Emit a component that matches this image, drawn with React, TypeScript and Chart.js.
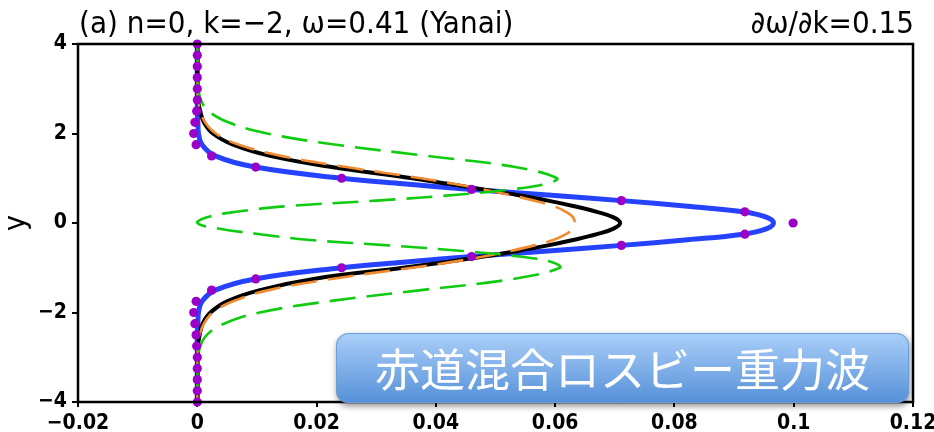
import React, { useEffect, useRef } from "react";
import { Chart, registerables } from "chart.js";

Chart.register(...registerables);

// ---- data ----
const yLevels = [
  4, 3.5, 3, 2.75, 2.5, 2.25, 2, 1.75, 1.5, 1.25, 1, 0.875, 0.75, 0.625, 0.5, 0.375, 0.25, 0.125, 0,
  -0.125, -0.25, -0.375, -0.5, -0.625, -0.75, -0.875, -1, -1.25, -1.5, -1.75, -2, -2.25, -2.5, -2.75, -3, -3.5, -4,
];

const blueLine = [
  0, 0, 0, 0, 0, 0.0001, 0.0002, 0.0008, 0.003, 0.0097, 0.0242, 0.0345, 0.046, 0.0588, 0.0711, 0.0822, 0.0915, 0.0955, 0.0966,
  0.0955, 0.0915, 0.0822, 0.0711, 0.0588, 0.046, 0.0345, 0.0242, 0.0097, 0.003, 0.0008, 0.0002, 0.0001, 0, 0, 0, 0, 0,
];

const blackLine = [
  0, 0, 0, 0.0001, 0.0005, 0.0011, 0.0026, 0.006, 0.0122, 0.0225, 0.036, 0.042, 0.048, 0.0537, 0.0588, 0.0632, 0.067, 0.0698, 0.0709,
  0.0698, 0.067, 0.0632, 0.0588, 0.0537, 0.048, 0.0415, 0.0345, 0.0195, 0.0105, 0.005, 0.0022, 0.0009, 0.0004, 0.0001, 0, 0, 0,
];

const orangeLine = [
  0, 0, 0, 0.0001, 0.0005, 0.0013, 0.0031, 0.007, 0.014, 0.025, 0.0375, 0.043, 0.048, 0.0525, 0.0565, 0.0598, 0.0618, 0.063, 0.0633,
  0.063, 0.0618, 0.0598, 0.0565, 0.0525, 0.048, 0.0425, 0.036, 0.0225, 0.012, 0.006, 0.0026, 0.0011, 0.0004, 0.0001, 0, 0, 0,
];

const greenLine = [
  0, 0, 0.0002, 0.0006, 0.0019, 0.0052, 0.0117, 0.0233, 0.0385, 0.0533, 0.0603, 0.0585, 0.0525, 0.043, 0.03, 0.015, 0.0065, 0.0015, 0,
  0.0035, 0.0105, 0.0185, 0.032, 0.0445, 0.054, 0.0595, 0.0608, 0.053, 0.0375, 0.022, 0.0105, 0.0045, 0.0016, 0.0005, 0.0002, 0, 0,
];

const dotY = [
  4, 3.75, 3.5, 3.25, 3, 2.75, 2.5, 2.25, 2, 1.75, 1.5, 1.25, 1, 0.75, 0.5, 0.25, 0,
  -0.25, -0.5, -0.75, -1, -1.25, -1.5, -1.75, -2, -2.25, -2.5, -2.75, -3, -3.25, -3.5, -3.75, -4,
];
const dotX = [
  0, 0, 0, 0, 0, 0, -0.0001, -0.0004, -0.0006, -0.0002, 0.0024, 0.0098, 0.0242, 0.046, 0.0711, 0.0918, 0.0999,
  0.0918, 0.0711, 0.046, 0.0242, 0.0098, 0.0024, -0.0002, -0.0006, -0.0004, -0.0002, -0.0001, 0, 0, 0, 0, 0,
];

const xTickValues = [-0.02, 0, 0.02, 0.04, 0.06, 0.08, 0.1, 0.12];
const xTickLabels = ["\u22120.02", "0", "0.02", "0.04", "0.06", "0.08", "0.1", "0.12"];
const yTickValues = [-4, -2, 0, 2, 4];
const yTickLabels = ["\u22124", "\u22122", "0", "2", "4"];

const titleLeft = "(a) n=0, k=\u22122, \u03c9=0.41 (Yanai)";
const titleRight = "\u2202\u03c9/\u2202k=0.15";
const yAxisLabel = "y";
const bannerText = "赤道混合ロスビー重力波";

// ---- styles ----
const TICK_FONT = "'DejaVu Sans Condensed', 'DejaVu Sans', sans-serif";
const TITLE_FONT = "'DejaVu Sans Condensed', 'DejaVu Sans', sans-serif";
const CJK_FONT = "'Noto Sans CJK JP', 'Noto Sans CJK SC', sans-serif";

const toPoints = (xs: number[], ys: number[]) => xs.map((x, i) => ({ x, y: ys[i] }));

const overlayPlugin = {
  id: "overlay",
  afterDraw(chart: any) {
    const { ctx, chartArea: a } = chart;
    ctx.save();
    // frame
    ctx.strokeStyle = "#000";
    ctx.lineWidth = 2.5;
    ctx.strokeRect(a.left, a.top, a.right - a.left, a.bottom - a.top);

    // titles
    ctx.fillStyle = "#000";
    ctx.font = `31px ${TITLE_FONT}`;
    ctx.textAlign = "left";
    ctx.textBaseline = "alphabetic";
    ctx.fillText(titleLeft, a.left + 1, 33);
    ctx.textAlign = "right";
    ctx.fillText(titleRight, a.right + 1, 33);

    // y axis label
    ctx.save();
    ctx.translate(17, (a.top + a.bottom) / 2);
    ctx.rotate(-Math.PI / 2);
    ctx.textAlign = "center";
    ctx.textBaseline = "middle";
    ctx.font = `30px ${TITLE_FONT}`;
    ctx.fillText(yAxisLabel, 0, 0);
    ctx.restore();

    // banner
    const bx = 336, by = 333, bw = 573, bh = 70, r = 12;
    ctx.save();
    ctx.shadowColor = "rgba(0,0,0,0.45)";
    ctx.shadowBlur = 6;
    ctx.shadowOffsetX = 1;
    ctx.shadowOffsetY = 3;
    const g = ctx.createLinearGradient(0, by, 0, by + bh);
    g.addColorStop(0, "#abcff9");
    g.addColorStop(1, "#5590d8");
    ctx.fillStyle = g;
    ctx.beginPath();
    ctx.roundRect(bx, by, bw, bh, r);
    ctx.fill();
    ctx.restore();
    ctx.strokeStyle = "#6d9dd6";
    ctx.lineWidth = 1;
    ctx.beginPath();
    ctx.roundRect(bx + 0.5, by + 0.5, bw - 1, bh - 1, r);
    ctx.stroke();

    ctx.fillStyle = "#ffffff";
    ctx.font = `45px ${CJK_FONT}`;
    ctx.textAlign = "center";
    ctx.textBaseline = "middle";
    ctx.fillText(bannerText, bx + bw / 2, by + bh / 2 + 2);
    ctx.restore();
  },
};

export default function App() {
  const ref = useRef<HTMLCanvasElement | null>(null);
  useEffect(() => {
    document.body.style.margin = "0";
    const canvas = ref.current!;
    const lineDs = (data: number[], color: string, width: number, dash: number[]) => ({
      data: toPoints(data, yLevels),
      showLine: true,
      borderColor: color,
      borderWidth: width,
      borderDash: dash,
      pointRadius: 0,
      tension: 0.4,
      clip: 4,
      fill: false,
    });
    const chart = new Chart(canvas, {
      type: "scatter",
      data: {
        datasets: [
          {
            data: toPoints(dotX, dotY),
            showLine: false,
            pointRadius: 4.6,
            pointBackgroundColor: "#9a00c8",
            pointBorderWidth: 0,
            clip: 8,
          } as any,
          lineDs(greenLine, "#10cc10", 2.6, [26, 11]),
          lineDs(orangeLine, "#f28a30", 2.6, [26, 11]),
          lineDs(blackLine, "#000000", 4, []),
          lineDs(blueLine, "#2543ff", 5, []),
        ],
      },
      options: {
        responsive: false,
        animation: false,
        events: [],
        layout: { padding: { left: 0, right: 21, top: 44, bottom: 0 } },
        plugins: { legend: { display: false }, tooltip: { enabled: false }, title: { display: false } },
        scales: {
          x: {
            type: "linear",
            min: -0.02,
            max: 0.12,
            afterFit: (s: any) => {
              s.height = 30;
              s.paddingLeft = 0;
              s.paddingRight = 0;
            },
            afterBuildTicks: (s: any) => {
              s.ticks = xTickValues.map((v) => ({ value: v }));
            },
            grid: { display: true, drawOnChartArea: false, drawTicks: true, tickLength: 5, color: "#000", lineWidth: 2 },
            border: { display: false },
            ticks: {
              autoSkip: false,
              maxRotation: 0,
              padding: 4,
              color: "#000",
              font: { family: TICK_FONT, size: 21, weight: "bold" },
              callback: (_v: any, i: number) => xTickLabels[i],
            },
          },
          y: {
            type: "linear",
            min: -4,
            max: 4,
            afterFit: (s: any) => {
              s.width = 78;
              s.paddingTop = 0;
              s.paddingBottom = 0;
            },
            afterBuildTicks: (s: any) => {
              s.ticks = yTickValues.map((v) => ({ value: v }));
            },
            grid: { display: true, drawOnChartArea: false, drawTicks: true, tickLength: 6, color: "#000", lineWidth: 2 },
            border: { display: false },
            ticks: {
              autoSkip: false,
              padding: 5,
              color: "#000",
              font: { family: TICK_FONT, size: 21, weight: "bold" },
              callback: (_v: any, i: number) => yTickLabels[i],
            },
          },
        },
      } as any,
      plugins: [overlayPlugin],
    });
    return () => chart.destroy();
  }, []);
  return (
    <div style={{ width: 934, height: 432, position: "relative", background: "#fff" }}>
      <canvas ref={ref} width={934} height={432} style={{ display: "block" }} />
    </div>
  );
}
